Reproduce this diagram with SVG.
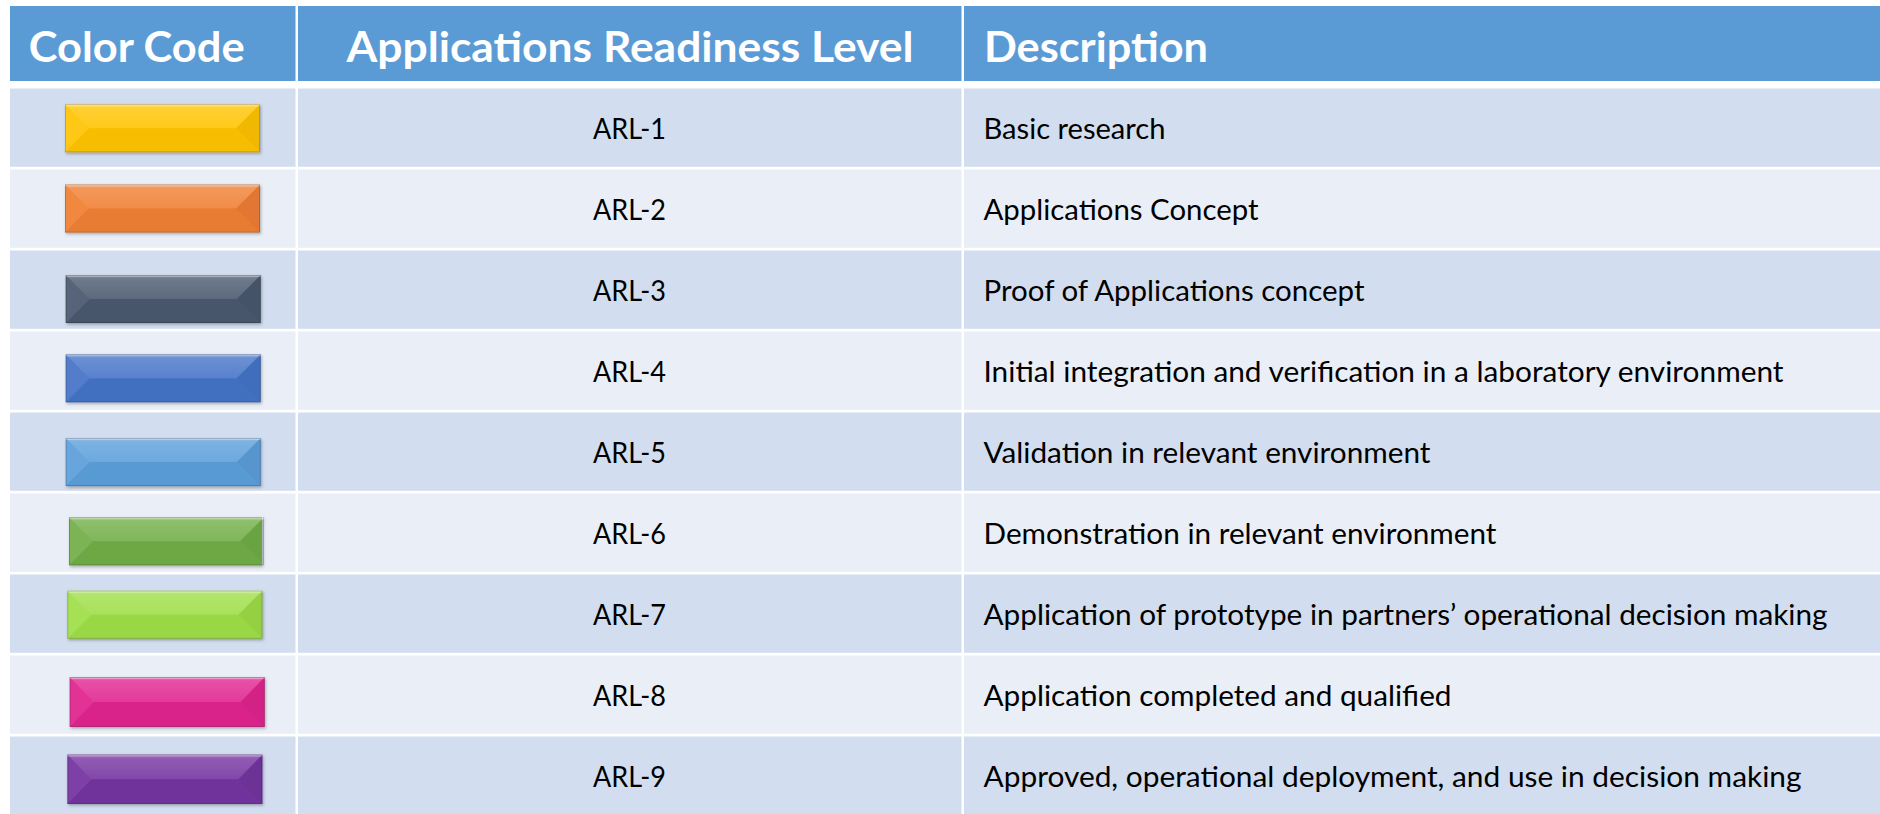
<svg xmlns="http://www.w3.org/2000/svg" xmlns:xlink="http://www.w3.org/1999/xlink" width="1880" height="814" viewBox="0 0 1880 814">
<style>
.hd{fill:#5B9BD5}
.dk{fill:#D2DEEF}
.lt{fill:#EAEFF7}
.ht{font-family:Lato,"Liberation Sans",sans-serif;font-weight:bold;font-size:42px;fill:#FFFFFF}
.bt{font-family:Lato,"Liberation Sans",sans-serif;font-size:29px;fill:#000000}
.mid{text-anchor:middle}
</style>
<defs>
<linearGradient id="topg" x1="0" y1="0" x2="0" y2="1">
<stop offset="0" stop-color="#FFFFFF" stop-opacity="0.38"/>
<stop offset="0.15" stop-color="#FFFFFF" stop-opacity="0.2"/>
<stop offset="1" stop-color="#FFFFFF" stop-opacity="0.1"/>
</linearGradient>
<filter id="sh" x="-10%" y="-20%" width="120%" height="150%">
<feDropShadow dx="1" dy="1.5" stdDeviation="1.5" flood-color="#000000" flood-opacity="0.3"/>
</filter>
<g id="bevel">
<polygon points="0,0 195,0 171,24 24,24" fill="url(#topg)"/>
<polygon points="0,0 24,24 0,48" fill="#FFFFFF" fill-opacity="0.07"/>
<polygon points="195,0 171,24 195,48" fill="#000000" fill-opacity="0.06"/>
<polygon points="0,48 195,48 171,24 24,24" fill="#000000" fill-opacity="0.03"/>
<rect x="0" y="0" width="195" height="2" fill="#FFFFFF" fill-opacity="0.3"/>
<rect x="0.4" y="0.4" width="194.2" height="47.2" fill="none" stroke="#000000" stroke-opacity="0.22" stroke-width="0.8"/>
</g>
</defs>
<rect x="0" y="0" width="1880" height="814" fill="#FFFFFF"/>

<g id="header">
<rect class="hd" x="10" y="6" width="285.5" height="75"/>
<rect class="hd" x="298" y="6" width="663.5" height="75"/>
<rect class="hd" x="964" y="6" width="916" height="75"/>
<text class="ht" x="28.7" y="61.7" textLength="216" lengthAdjust="spacingAndGlyphs">Color Code</text>
<text class="ht" x="346.5" y="61.7" textLength="567" lengthAdjust="spacingAndGlyphs">Applications Readiness Level</text>
<text class="ht" x="984" y="61.7" textLength="224" lengthAdjust="spacingAndGlyphs">Description</text>
</g>

<g id="row-arl1">
<rect class="dk" x="10" y="88.5" width="285.5" height="78.3"/>
<rect class="dk" x="298" y="88.5" width="663.5" height="78.3"/>
<rect class="dk" x="964" y="88.5" width="916" height="78.3"/>
<g transform="translate(65,104.3)" filter="url(#sh)"><rect width="195" height="48" fill="#FFC400"/><use xlink:href="#bevel"/></g>
<text class="bt mid" x="629.5" y="138.5" textLength="73" lengthAdjust="spacingAndGlyphs">ARL-1</text>
<text class="bt" x="983.5" y="138.5" textLength="182" lengthAdjust="spacingAndGlyphs">Basic research</text>
</g>

<g id="row-arl2">
<rect class="lt" x="10" y="169.5" width="285.5" height="78.3"/>
<rect class="lt" x="298" y="169.5" width="663.5" height="78.3"/>
<rect class="lt" x="964" y="169.5" width="916" height="78.3"/>
<g transform="translate(65,184.5)" filter="url(#sh)"><rect width="195" height="48" fill="#F07F33"/><use xlink:href="#bevel"/></g>
<text class="bt mid" x="629.5" y="219.5" textLength="73" lengthAdjust="spacingAndGlyphs">ARL-2</text>
<text class="bt" x="983.5" y="219.5" textLength="275" lengthAdjust="spacingAndGlyphs">Applications Concept</text>
</g>

<g id="row-arl3">
<rect class="dk" x="10" y="250.5" width="285.5" height="78.3"/>
<rect class="dk" x="298" y="250.5" width="663.5" height="78.3"/>
<rect class="dk" x="964" y="250.5" width="916" height="78.3"/>
<g transform="translate(65.7,275)" filter="url(#sh)"><rect width="195" height="48" fill="#4A596F"/><use xlink:href="#bevel"/></g>
<text class="bt mid" x="629.5" y="300.5" textLength="73" lengthAdjust="spacingAndGlyphs">ARL-3</text>
<text class="bt" x="983.5" y="300.5" textLength="381" lengthAdjust="spacingAndGlyphs">Proof of Applications concept</text>
</g>

<g id="row-arl4">
<rect class="lt" x="10" y="331.5" width="285.5" height="78.3"/>
<rect class="lt" x="298" y="331.5" width="663.5" height="78.3"/>
<rect class="lt" x="964" y="331.5" width="916" height="78.3"/>
<g transform="translate(65.7,354.3)" filter="url(#sh)"><rect width="195" height="48" fill="#4674C8"/><use xlink:href="#bevel"/></g>
<text class="bt mid" x="629.5" y="381.5" textLength="73" lengthAdjust="spacingAndGlyphs">ARL-4</text>
<text class="bt" x="983.5" y="381.5" textLength="800" lengthAdjust="spacingAndGlyphs">Initial integration and verification in a laboratory environment</text>
</g>

<g id="row-arl5">
<rect class="dk" x="10" y="412.5" width="285.5" height="78.3"/>
<rect class="dk" x="298" y="412.5" width="663.5" height="78.3"/>
<rect class="dk" x="964" y="412.5" width="916" height="78.3"/>
<g transform="translate(65.7,438)" filter="url(#sh)"><rect width="195" height="48" fill="#5C9FDB"/><use xlink:href="#bevel"/></g>
<text class="bt mid" x="629.5" y="462.5" textLength="73" lengthAdjust="spacingAndGlyphs">ARL-5</text>
<text class="bt" x="983.5" y="462.5" textLength="447" lengthAdjust="spacingAndGlyphs">Validation in relevant environment</text>
</g>

<g id="row-arl6">
<rect class="lt" x="10" y="493.5" width="285.5" height="78.3"/>
<rect class="lt" x="298" y="493.5" width="663.5" height="78.3"/>
<rect class="lt" x="964" y="493.5" width="916" height="78.3"/>
<g transform="translate(69,517.3)" filter="url(#sh)"><rect width="193" height="48" fill="#72AE48"/><use xlink:href="#bevel"/></g>
<text class="bt mid" x="629.5" y="543.5" textLength="73" lengthAdjust="spacingAndGlyphs">ARL-6</text>
<text class="bt" x="983.5" y="543.5" textLength="513" lengthAdjust="spacingAndGlyphs">Demonstration in relevant environment</text>
</g>

<g id="row-arl7">
<rect class="dk" x="10" y="574.5" width="285.5" height="78.3"/>
<rect class="dk" x="298" y="574.5" width="663.5" height="78.3"/>
<rect class="dk" x="964" y="574.5" width="916" height="78.3"/>
<g transform="translate(67.4,590.7)" filter="url(#sh)"><rect width="195" height="48" fill="#9FDE48"/><use xlink:href="#bevel"/></g>
<text class="bt mid" x="629.5" y="624.5" textLength="73" lengthAdjust="spacingAndGlyphs">ARL-7</text>
<text class="bt" x="983.5" y="624.5" textLength="844" lengthAdjust="spacingAndGlyphs">Application of prototype in partners’ operational decision making</text>
</g>

<g id="row-arl8">
<rect class="lt" x="10" y="655.5" width="285.5" height="78.3"/>
<rect class="lt" x="298" y="655.5" width="663.5" height="78.3"/>
<rect class="lt" x="964" y="655.5" width="916" height="78.3"/>
<g transform="translate(69.7,677) scale(1,1.04)" filter="url(#sh)"><rect width="195" height="48" fill="#E0248F"/><use xlink:href="#bevel"/></g>
<text class="bt mid" x="629.5" y="705.5" textLength="73" lengthAdjust="spacingAndGlyphs">ARL-8</text>
<text class="bt" x="983.5" y="705.5" textLength="468" lengthAdjust="spacingAndGlyphs">Application completed and qualified</text>
</g>

<g id="row-arl9">
<rect class="dk" x="10" y="736.5" width="285.5" height="78.3"/>
<rect class="dk" x="298" y="736.5" width="663.5" height="78.3"/>
<rect class="dk" x="964" y="736.5" width="916" height="78.3"/>
<g transform="translate(67.4,754.5) scale(1,1.03)" filter="url(#sh)"><rect width="195" height="48" fill="#7433A0"/><use xlink:href="#bevel"/></g>
<text class="bt mid" x="629.5" y="786.5" textLength="73" lengthAdjust="spacingAndGlyphs">ARL-9</text>
<text class="bt" x="983.5" y="786.5" textLength="818" lengthAdjust="spacingAndGlyphs">Approved, operational deployment, and use in decision making</text>
</g>
</svg>
